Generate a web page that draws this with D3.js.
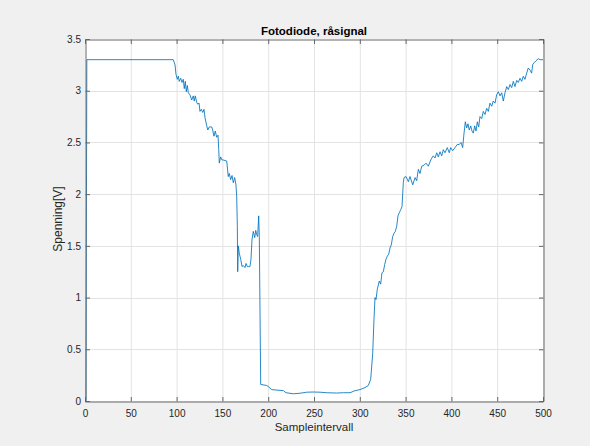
<!DOCTYPE html>
<html><head><meta charset="utf-8">
<script src="https://cdn.jsdelivr.net/npm/d3@7"></script>
<style>
html,body{margin:0;padding:0;background:#f0f0f0;}
svg{display:block;font-family:"Liberation Sans",Arial,Helvetica,sans-serif;}
</style></head><body>
<svg id="c" width="590" height="446"></svg>
<script>
const title = "Fotodiode, råsignal";
const xLabel = "Sampleintervall";
const yLabel = "Spenning[V]";
const xTicks = [0,50,100,150,200,250,300,350,400,450,500];
const yTicks = [0,0.5,1,1.5,2,2.5,3,3.5];

const sampleX = [1,2,96.4,98.3,99.3,100.8,101.9,102.9,104.5,105.9,107.3,108.4,109.5,110.6,111.7,112.8,114.6,116.5,118.2,119.3,120.4,121.9,123,124.5,125.5,127,128.5,129.9,131,132.9,134,135.7,138.3,139.4,140.8,142.2,143.8,145.2,146,146.6,148.1,149.6,151,154.7,156.4,157.5,159,160.5,161.9,163.4,164.8,165.6,166.3,166.7,167.4,168.4,170,171.4,172.8,174.7,175.8,177.2,178.7,180.1,181.2,182.3,183.7,185.3,186.4,187.4,188.5,189.6,190.3,191.8,198.4,200.1,203.8,216.5,219.4,227.4,234.7,242,249.2,256.6,263.9,274.8,282,289.3,294.8,300.2,305.7,309.3,311.9,314.1,315.5,316.6,317.7,319.1,321.3,322.8,324.2,325.7,327.2,328.6,330,331.6,333,334.4,335.9,337.3,338.8,340.3,341.7,343.1,344.7,346.1,347.5,348.3,350.5,353,354.8,357.8,360.3,362.1,363.9,365.7,367.6,370.1,372.3,374.8,377.4,380.2,382.1,384,385.7,387.6,389.4,391.2,393,395.5,397.7,399.2,401.4,403.9,406.4,408.6,410.5,412.3,413.8,415.2,416.7,418.1,419.5,421.1,422.5,423.9,425.4,426.9,428.3,429.8,431.2,433.1,434.8,436.7,438.5,440.3,442.1,444,445.7,447.6,449.4,451.2,453.1,454.9,456.7,458.5,460.4,462.1,464,465.8,467.6,469.4,471.3,473,474.9,476.7,478.5,480.3,482.2,483.9,485.8,487.6,488.7,490.2,492.4,494.9,496.7,500];
const voltage = [0,3.30,3.30,3.25,3.16,3.11,3.14,3.09,3.12,3.08,3.11,3.02,3.09,2.99,3.05,2.98,2.96,2.91,2.95,2.90,2.95,2.89,2.87,2.88,2.80,2.82,2.79,2.82,2.74,2.66,2.62,2.65,2.65,2.62,2.56,2.61,2.55,2.57,2.43,2.30,2.36,2.33,2.33,2.32,2.17,2.20,2.14,2.18,2.11,2.16,2.09,1.98,1.69,1.25,1.50,1.43,1.37,1.30,1.31,1.29,1.33,1.30,1.30,1.30,1.37,1.56,1.64,1.58,1.65,1.61,1.59,1.79,1.59,0.16,0.15,0.14,0.11,0.10,0.08,0.07,0.075,0.085,0.087,0.085,0.08,0.077,0.08,0.08,0.10,0.11,0.13,0.15,0.21,0.46,0.79,1.00,0.98,1.08,1.16,1.13,1.24,1.25,1.32,1.37,1.40,1.42,1.48,1.51,1.59,1.62,1.64,1.69,1.79,1.82,1.85,1.88,2.11,2.16,2.17,2.12,2.17,2.09,2.16,2.13,2.24,2.20,2.27,2.28,2.30,2.27,2.33,2.37,2.35,2.40,2.36,2.41,2.37,2.43,2.40,2.45,2.40,2.45,2.42,2.45,2.48,2.48,2.50,2.45,2.59,2.70,2.64,2.68,2.62,2.66,2.61,2.59,2.66,2.61,2.70,2.65,2.75,2.73,2.80,2.77,2.83,2.80,2.88,2.85,2.90,2.88,2.96,2.99,2.95,2.98,2.90,2.98,3.04,3.01,3.06,3.03,3.09,3.04,3.10,3.08,3.12,3.09,3.14,3.11,3.17,3.22,3.20,3.17,3.25,3.27,3.29,3.31,3.30,3.30];

const svg = d3.select("#c");
const L = 85, R = 543, T = 39, B = 401;
const x = d3.scaleLinear().domain([0,500]).range([L,R]);
const y = d3.scaleLinear().domain([0,3.5]).range([B,T]);

svg.append("rect").attr("x",L).attr("y",T).attr("width",R-L).attr("height",B-T).attr("fill","#fff");

// grid
svg.append("g").selectAll("line").data(xTicks.slice(1,-1)).join("line")
  .attr("x1",d=>x(d)+0.5).attr("x2",d=>x(d)+0.5).attr("y1",T).attr("y2",B)
  .attr("stroke","#e3e3e3").attr("stroke-width",1);
svg.append("g").selectAll("line").data(yTicks.slice(1,-1)).join("line")
  .attr("y1",d=>Math.round(y(d))+0.5).attr("y2",d=>Math.round(y(d))+0.5).attr("x1",L).attr("x2",R)
  .attr("stroke","#e3e3e3").attr("stroke-width",1);

// line
const pts = sampleX.map((d,i)=>[d,voltage[i]]);
svg.append("path").datum(pts)
  .attr("d", d3.line().x(d=>x(d[0])).y(d=>y(d[1])))
  .attr("fill","none").attr("stroke","#0072BD").attr("stroke-width",0.85).attr("stroke-linejoin","round");

// axes
const axColor = "#666";
const tl = 4.5;
const gB = svg.append("g").attr("transform",`translate(0,${B+0.5})`)
  .call(d3.axisBottom(x).tickValues(xTicks).tickSize(-tl).tickPadding(8));
const gT = svg.append("g").attr("transform",`translate(0,${T+0.5})`)
  .call(d3.axisTop(x).tickValues(xTicks).tickSize(-tl).tickFormat(""));
const gL = svg.append("g").attr("transform",`translate(${L+0.5},0)`)
  .call(d3.axisLeft(y).tickValues(yTicks).tickSize(-tl).tickPadding(4.5).tickFormat(d3.format("")));
const gR = svg.append("g").attr("transform",`translate(${R+0.5},0)`)
  .call(d3.axisRight(y).tickValues(yTicks).tickSize(-tl).tickFormat(""));
[gB,gT,gL,gR].forEach(g=>{
  g.select(".domain").attr("stroke",axColor);
  g.selectAll(".tick line").attr("stroke",axColor);
  g.selectAll("text").attr("fill","#262626").style("font-size","10px").style("font-family",'"Liberation Sans",Arial,sans-serif');
});

svg.append("text").attr("x",(L+R)/2).attr("y",34.5).attr("text-anchor","middle")
  .style("font-size","11.5px").style("font-weight","bold").attr("fill","#000").text(title);
svg.append("text").attr("x",(L+R)/2).attr("y",431).attr("text-anchor","middle")
  .style("font-size","11.5px").attr("fill","#262626").text(xLabel);
svg.append("text").attr("transform",`translate(61.5,219) rotate(-90)`).attr("text-anchor","middle")
  .style("font-size","12px").attr("fill","#262626").text(yLabel);
</script></body></html>
